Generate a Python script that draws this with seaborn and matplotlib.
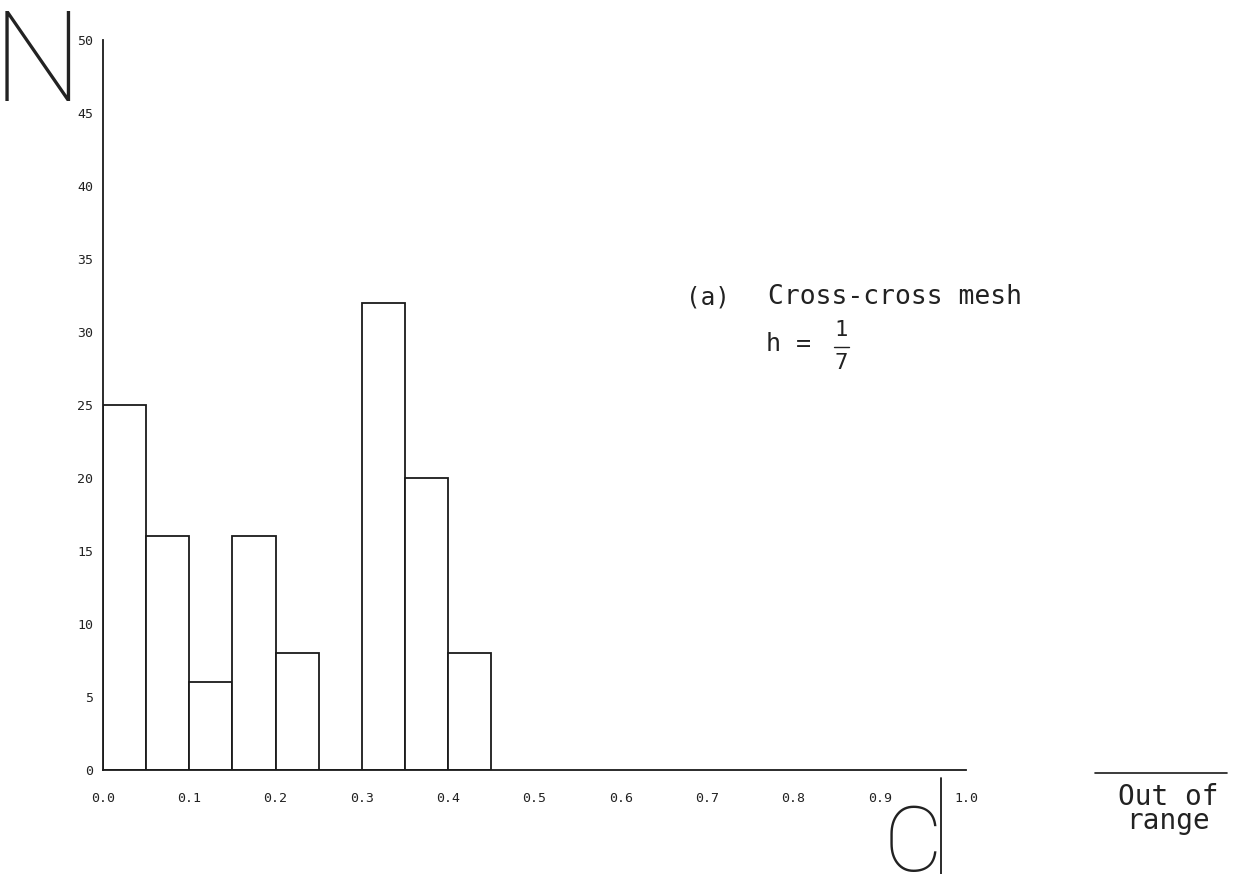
import matplotlib
matplotlib.use("Agg")
import matplotlib.pyplot as plt
import seaborn as sns
import numpy as np

# ---- data ----
bin_edges = [0.0, 0.05, 0.10, 0.15, 0.20, 0.25, 0.30, 0.35, 0.40, 0.45]
counts = [25, 16, 6, 16, 8, 0, 32, 20, 8]
x_ticks = [0.0, 0.1, 0.2, 0.3, 0.4, 0.5, 0.6, 0.7, 0.8, 0.9, 1.0]
x_tick_labels = ["0.0", "0.1", "0.2", "0.3", "0.4", "0.5", "0.6", "0.7", "0.8", "0.9", "1.0"]
y_ticks = [0, 5, 10, 15, 20, 25, 30, 35, 40, 45, 50]
y_tick_labels = ["0", "5", "10", "15", "20", "25", "30", "35", "40", "45", "50"]

sns.set_theme(style="white")
plt.rcParams["font.family"] = ["DejaVu Sans Mono", "DejaVu Sans"]

W, H = 1239, 874
fig = plt.figure(figsize=(W / 100, H / 100), dpi=100)
ax = fig.add_axes([103 / W, 1 - 770 / H, (966 - 103) / W, (770 - 40) / H])

centers = [(a + b) / 2 for a, b in zip(bin_edges[:-1], bin_edges[1:])]
sns.histplot(x=centers, weights=counts, bins=bin_edges, ax=ax,
             color="white", edgecolor="#1a1a1a", linewidth=1.3, alpha=1.0)

ax.set_xlim(0, 1.0)
ax.set_ylim(0, 50)
ax.set_xticks(x_ticks)
ax.set_xticklabels(x_tick_labels)
ax.set_yticks(y_ticks)
ax.set_yticklabels(y_tick_labels)
ax.set_xlabel("")
ax.set_ylabel("")

for s in ["top", "right"]:
    ax.spines[s].set_visible(False)
for s in ["left", "bottom"]:
    ax.spines[s].set_color("#1a1a1a")
    ax.spines[s].set_linewidth(1.3)

ax.tick_params(axis="both", direction="in", length=4, width=1.0, colors="#1a1a1a",
               labelsize=9.5, labelcolor="#222222")
ax.tick_params(axis="x", pad=16)
ax.tick_params(axis="y", pad=7)
ax.grid(False)

# Axis letters drawn large
fig.text(37 / W, 1 - 101 / H, "N", fontsize=91, fontweight="ultralight",
         family=["Roboto", "DejaVu Sans"],
         ha="center", va="baseline", color="#222222")
fig.text(913 / W, 1 - 871 / H, "C", fontsize=65, fontweight="ultralight",
         family=["Roboto", "DejaVu Sans"],
         ha="center", va="baseline", color="#222222")
fig.add_artist(plt.Line2D([941 / W, 941 / W], [1 - 778 / H, 1 - 874 / H],
                          transform=fig.transFigure, color="#1a1a1a", lw=1.3))

# Out of range
fig.add_artist(plt.Line2D([1095 / W, 1227 / W], [1 - 773 / H, 1 - 773 / H],
                          transform=fig.transFigure, color="#1a1a1a", lw=1.2))
fig.text(1168 / W, 1 - 809 / H, "Out of\nrange", fontsize=20, ha="center",
         va="center", linespacing=0.85, color="#222222")

# Annotation
fig.text(686 / W, 1 - 297 / H, "(a)", fontsize=17.5,
         ha="left", va="center", color="#222222")
fig.text(768 / W, 1 - 297 / H, "Cross-cross mesh", fontsize=19,
         ha="left", va="center", color="#222222")
fig.text(766 / W, 1 - 344 / H, "h =", fontsize=18, ha="left", va="center",
         color="#222222")
fig.text(841 / W, 1 - 330 / H, "1", fontsize=16, ha="center", va="center",
         color="#222222")
fig.add_artist(plt.Line2D([834 / W, 849 / W], [1 - 347 / H, 1 - 347 / H],
                          transform=fig.transFigure, color="#222222", lw=1.0))
fig.text(841 / W, 1 - 363 / H, "7", fontsize=16, ha="center", va="center",
         color="#222222")

fig.savefig("out.png", dpi=100)
